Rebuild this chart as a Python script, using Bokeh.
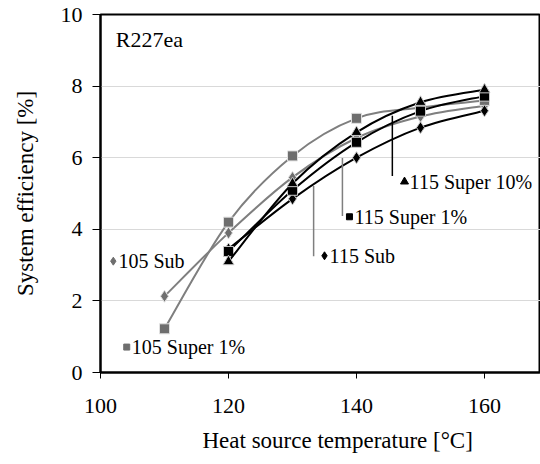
from bokeh.plotting import figure
from bokeh.models import Range1d, FixedTicker, Label, ColumnDataSource, Title
from bokeh.core.properties import value
from bokeh.embed import file_html
from bokeh.resources import INLINE

# ---- data ----
temps_105 = [110, 120, 130, 140, 150, 160]
sub_105 = [2.13, 3.90, 5.45, 6.55, 7.15, 7.45]
super1_105 = [1.22, 4.20, 6.05, 7.10, 7.40, 7.60]

temps_115 = [120, 130, 140, 150, 160]
sub_115 = [3.45, 4.85, 6.00, 6.84, 7.31]
super1_115 = [3.38, 5.09, 6.43, 7.30, 7.72]
super10_115 = [3.10, 5.28, 6.71, 7.55, 7.90]

x_ticks = [100, 120, 140, 160]
y_ticks = [0, 2, 4, 6, 8, 10]

FONT = "'Liberation Serif', 'Times New Roman', serif"
GRAY = "#7f7f7f"
GRAY_M = "#6e6e6e"
BLACK = "#000000"

p = figure(width=540, height=464, output_backend="svg", toolbar_location=None,
           x_range=Range1d(100, 168.75), y_range=Range1d(0, 10),
           min_border_left=100, min_border_right=0, min_border_top=14,
           min_border_bottom=92)
p.background_fill_color = "white"
p.border_fill_color = "white"
p.outline_line_color = "black"
p.outline_line_width = 2

p.xgrid.grid_line_color = None
p.ygrid.grid_line_color = "#d9d9d9"
p.ygrid.grid_line_width = 1

for ax in (p.xaxis[0], p.yaxis[0]):
    ax.axis_line_color = "black"
    ax.axis_line_width = 2
    ax.major_tick_line_color = "black"
    ax.major_tick_line_width = 1
    ax.major_tick_in = 0
    ax.minor_tick_line_color = None
    ax.major_label_text_font = FONT
    ax.major_label_text_font_size = "22px"
    ax.major_label_text_color = "black"

p.xaxis.ticker = FixedTicker(ticks=x_ticks)
p.yaxis.ticker = FixedTicker(ticks=y_ticks)
p.xaxis.major_tick_out = 6
p.yaxis.major_tick_out = 8
p.xaxis.major_label_standoff = 20
p.yaxis.major_label_standoff = 10

p.yaxis.axis_label = "System efficiency [%]"
p.yaxis.axis_label_text_font = FONT
p.yaxis.axis_label_text_font_size = "23px"
p.yaxis.axis_label_text_font_style = "normal"
p.yaxis.axis_label_text_color = "black"
p.yaxis.axis_label_standoff = 20


def smooth(xs, ys):
    n = len(xs)
    d = dict(x0=[], y0=[], x1=[], y1=[], cx0=[], cy0=[], cx1=[], cy1=[])
    for i in range(n - 1):
        a = i - 1 if i > 0 else i
        b = i + 2 if i + 2 < n else i + 1
        d["x0"].append(xs[i]); d["y0"].append(ys[i])
        d["x1"].append(xs[i + 1]); d["y1"].append(ys[i + 1])
        d["cx0"].append(xs[i] + (xs[i + 1] - xs[a]) / 6)
        d["cy0"].append(ys[i] + (ys[i + 1] - ys[a]) / 6)
        d["cx1"].append(xs[i + 1] - (xs[b] - xs[i]) / 6)
        d["cy1"].append(ys[i + 1] - (ys[b] - ys[i]) / 6)
    return ColumnDataSource(d)


series = [
    (temps_105, sub_105, GRAY, GRAY_M, "diamond", 12, "#e0e0e0"),
    (temps_105, super1_105, GRAY, GRAY_M, "square", 10, "#e0e0e0"),
    (temps_115, sub_115, BLACK, BLACK, "diamond", 12, "#c8c8c8"),
    (temps_115, super1_115, BLACK, BLACK, "square", 10, "#c8c8c8"),
    (temps_115, super10_115, BLACK, BLACK, "triangle", 11, "#c8c8c8"),
]
for xs, ys, lc, mc, mk, sz, oc in series:
    p.bezier(x0="x0", y0="y0", x1="x1", y1="y1", cx0="cx0", cy0="cy0",
             cx1="cx1", cy1="cy1", source=smooth(xs, ys),
             line_color=lc, line_width=2)
    p.scatter(xs, ys, marker=mk, size=sz, fill_color=mc, line_color=oc,
              line_width=1)

# ---- callouts (label anchor positions) ----
callouts = [
    ("105 Sub", "diamond", GRAY_M, 102.0, 3.11, None),
    ("105 Super 1%", "square", GRAY_M, 104.1, 0.71, None),
    ("115 Sub", "diamond", BLACK, 135.0, 3.26, (133.3, 5.21, 3.25, GRAY)),
    ("115 Super 1%", "square", BLACK, 138.9, 4.35, (137.8, 5.99, 4.37, GRAY)),
    ("115 Super 10%", "triangle", BLACK, 147.5, 5.33, (145.6, 7.17, 5.49, BLACK)),
]
for txt, mk, col, mx, my, leader in callouts:
    if leader is not None:
        lx, ly0, ly1, lcol = leader
        p.segment(x0=[lx], y0=[ly0], x1=[lx], y1=[ly1], line_color=lcol,
                  line_width=1.5)
    msz = 8 if mk != "square" else 6
    p.scatter([mx], [my], marker=mk, size=msz, fill_color=col, line_color=col)
    p.text(x=[mx + 0.8], y=[my], text=[txt], text_font=value(FONT),
           text_font_size="20px", text_color="black", text_baseline="middle",
           text_align="left")

p.add_layout(Label(x=102.4, y=9.29, text="R227ea", text_font=FONT,
                   text_font_size="22px", text_color="black",
                   text_baseline="middle", text_align="left"))

p.add_layout(Title(text="Heat source temperature  [°C]", align="left",
                   offset=102, text_font=FONT, text_font_size="23px",
                   text_font_style="normal", text_color="black",
                   standoff=20), "below")

open("out.html", "w").write(file_html(p, INLINE))
